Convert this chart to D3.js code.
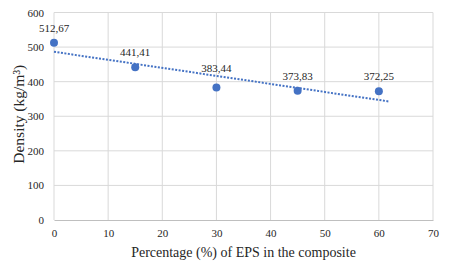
<!DOCTYPE html>
<html>
<head>
<meta charset="utf-8">
<script src="https://cdn.jsdelivr.net/npm/d3@7"></script>
<style>
  body { margin: 0; background: #fff; }
</style>
</head>
<body>
<script>
const percent = [0, 15, 30, 45, 60];
const density = [512.67, 441.41, 383.44, 373.83, 372.25];
const pointLabels = ["512,67", "441,41", "383,44", "373,83", "372,25"];
const xTicks = [0, 10, 20, 30, 40, 50, 60, 70];
const yTicks = [0, 100, 200, 300, 400, 500, 600];

const serif = '"Liberation Serif", "Times New Roman", Times, serif';
const outerWidth = 450;
const outerHeight = 266;
const margin = { left: 54, top: 12.5, right: 17, bottom: 46 };
const innerWidth = outerWidth - margin.left - margin.right;
const innerHeight = outerHeight - margin.top - margin.bottom;

const svg = d3.select('body').append('svg')
  .attr('width', outerWidth)
  .attr('height', outerHeight)
  .style('font-family', serif);

const g = svg.append('g')
  .attr('transform', `translate(${margin.left},${margin.top})`);

const xScale = d3.scaleLinear().domain([0, 70]).range([0, innerWidth]);
const yScale = d3.scaleLinear().domain([0, 600]).range([innerHeight, 0]);

// gridlines
g.append('g').selectAll('line')
  .data(yTicks.filter(d => d > 0))
  .join('line')
    .attr('x1', 0).attr('x2', innerWidth)
    .attr('y1', d => yScale(d)).attr('y2', d => yScale(d))
    .attr('stroke', '#d9d9d9').attr('stroke-width', 1);

g.append('g').selectAll('line')
  .data(xTicks)
  .join('line')
    .attr('x1', d => xScale(d)).attr('x2', d => xScale(d))
    .attr('y1', 0).attr('y2', innerHeight)
    .attr('stroke', '#d9d9d9').attr('stroke-width', 1);

// axes
const xAxis = d3.axisBottom(xScale).tickValues(xTicks).tickSize(0).tickPadding(9);
const xAxisG = g.append('g')
  .attr('transform', `translate(0,${innerHeight})`)
  .call(xAxis)
  .attr('font-family', null)
  .attr('font-size', null);
xAxisG.select('.domain').attr('stroke', '#bfbfbf');
xAxisG.selectAll('text')
  .style('font-family', serif).style('font-size', '11px').attr('fill', '#262626');

const yAxis = d3.axisLeft(yScale).tickValues(yTicks).tickSize(0).tickPadding(10);
const yAxisG = g.append('g').call(yAxis)
  .attr('font-family', null)
  .attr('font-size', null);
yAxisG.select('.domain').remove();
yAxisG.selectAll('text')
  .style('font-family', serif).style('font-size', '11px').attr('fill', '#262626');

// trendline (linear least squares of the data)
const mx = d3.mean(percent), my = d3.mean(density);
const slope = d3.sum(percent, (x, i) => (x - mx) * (density[i] - my)) /
              d3.sum(percent, x => (x - mx) * (x - mx));
const intercept = my - slope * mx;
const trendX = [0, 62];

g.append('line')
  .attr('x1', xScale(trendX[0])).attr('y1', yScale(intercept + slope * trendX[0]))
  .attr('x2', xScale(trendX[1])).attr('y2', yScale(intercept + slope * trendX[1]))
  .attr('stroke', '#4472c4')
  .attr('stroke-width', 2)
  .attr('stroke-dasharray', '2,1.5');

// points
g.append('g').selectAll('circle')
  .data(percent)
  .join('circle')
    .attr('cx', d => xScale(d))
    .attr('cy', (d, i) => yScale(density[i]))
    .attr('r', 4)
    .attr('fill', '#4472c4');

// data labels (the 30% one sits a little higher, clear of the trendline)
g.append('g').selectAll('text')
  .data(percent)
  .join('text')
    .attr('x', d => xScale(d))
    .attr('y', (d, i) => yScale(density[i]) - (i === 2 ? 15 : 11))
    .attr('text-anchor', 'middle')
    .attr('fill', '#262626')
    .style('font-family', serif)
    .style('font-size', '11px')
    .text((d, i) => pointLabels[i]);

// axis titles
svg.append('text')
  .attr('x', margin.left + innerWidth / 2)
  .attr('y', 257)
  .attr('text-anchor', 'middle')
  .attr('fill', '#262626')
  .style('font-family', serif)
  .style('font-size', '14px')
  .text('Percentage (%) of EPS in the composite');

svg.append('text')
  .attr('transform', `translate(24,${margin.top + innerHeight / 2 - 2}) rotate(-90)`)
  .attr('text-anchor', 'middle')
  .attr('fill', '#262626')
  .style('font-family', serif)
  .style('font-size', '15.5px')
  .text('Density (kg/m³)');
</script>
</body>
</html>
